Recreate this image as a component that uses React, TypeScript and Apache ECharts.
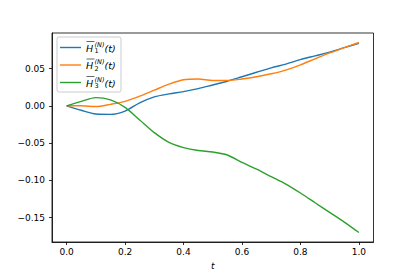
import React, { useEffect, useRef } from "react";
import * as echarts from "echarts";

const tValues = [0, 0.05, 0.1, 0.15, 0.2, 0.25, 0.3, 0.35, 0.4, 0.45, 0.5, 0.55, 0.6, 0.65, 0.7, 0.75, 0.8, 0.85, 0.9, 0.95, 1.0];
const h1Values = [0, -0.006, -0.011, -0.0115, -0.007, 0.004, 0.012, 0.016, 0.019, 0.023, 0.028, 0.033, 0.039, 0.045, 0.051, 0.056, 0.062, 0.067, 0.072, 0.078, 0.084];
const h2Values = [0, 0, -0.001, 0.002, 0.006, 0.013, 0.021, 0.029, 0.035, 0.036, 0.034, 0.034, 0.036, 0.039, 0.043, 0.048, 0.055, 0.063, 0.071, 0.078, 0.085];
const h3Values = [0, 0.006, 0.011, 0.008, -0.002, -0.019, -0.036, -0.049, -0.056, -0.06, -0.062, -0.066, -0.076, -0.085, -0.095, -0.105, -0.117, -0.13, -0.143, -0.156, -0.17];
const xTicks = [0, 0.2, 0.4, 0.6, 0.8, 1.0];
const yTicks = [-0.15, -0.1, -0.05, 0, 0.05];
const seriesNames = ["H̅₁⁽ᴺ⁾(t)", "H̅₂⁽ᴺ⁾(t)", "H̅₃⁽ᴺ⁾(t)"];
const subscripts = ["1", "2", "3"];
const colors = ["#1f77b4", "#ff7f0e", "#2ca02c"];

const FONT = "DejaVu Sans";

function fmt(v: number, d: number) {
  const s = Math.abs(v).toFixed(d);
  return v < -1e-9 ? "\u2212" + s : s;
}

export default function App() {
  const ref = useRef<HTMLDivElement>(null);
  useEffect(() => {
    if (!ref.current) return;
    const chart = echarts.init(ref.current, undefined, { renderer: "svg" });
    const all = [h1Values, h2Values, h3Values];
    const series = all.map((vals, i) => ({
      name: seriesNames[i],
      type: "line",
      data: tValues.map((t, k) => [t, vals[k]]),
      symbol: "none",
      smooth: 0.3,
      lineStyle: { color: colors[i], width: 1.4 },
      itemStyle: { color: colors[i] },
    }));
    const legendRows = [47.5, 65, 82.5];
    const legendChildren: any[] = [
      {
        type: "rect",
        shape: { x: 57, y: 37, width: 64, height: 55, r: 2 },
        style: { fill: "rgba(255,255,255,0.8)", stroke: "#cccccc", lineWidth: 1 },
      },
    ];
    legendRows.forEach((y, i) => {
      legendChildren.push(
        { type: "line", shape: { x1: 60, y1: y, x2: 81, y2: y }, style: { stroke: colors[i], lineWidth: 1.4 } },
        { type: "text", x: 86, y: y + 0.5, style: { text: "H", font: `italic 9.5px '${FONT}'`, fill: "#000", textVerticalAlign: "middle" } },
        { type: "line", shape: { x1: 86.5, y1: y - 6, x2: 94.5, y2: y - 6 }, style: { stroke: "#000", lineWidth: 0.6 } },
        { type: "text", x: 94.5, y: y - 3, style: { text: "(N)", font: `italic 6.5px '${FONT}'`, fill: "#000", textVerticalAlign: "middle" } },
        { type: "text", x: 94.5, y: y + 3.5, style: { text: subscripts[i], font: `6.5px '${FONT}'`, fill: "#000", textVerticalAlign: "middle" } },
        { type: "text", x: 104.5, y: y + 0.5, style: { text: "(t)", font: `italic 9.5px '${FONT}'`, fill: "#000", textVerticalAlign: "middle" } }
      );
    });
    chart.setOption({
      animation: false,
      grid: { left: 52, right: 41.5, top: 33, bottom: 35, containLabel: false, show: true, borderColor: "#000", borderWidth: 0.8 },
      xAxis: {
        type: "value",
        min: -0.05,
        max: 1.05,
        name: "t",
        nameLocation: "middle",
        nameGap: 19,
        nameTextStyle: { fontFamily: FONT, fontStyle: "italic", fontSize: 9, color: "#000" },
        axisLine: { show: true, onZero: false, lineStyle: { color: "#000", width: 0.8 } },
        axisTick: { show: true, length: 3, customValues: xTicks, lineStyle: { color: "#000", width: 0.8 } },
        axisLabel: { customValues: xTicks, formatter: (v: number) => fmt(v, 1), fontFamily: FONT, fontSize: 9, color: "#000", margin: 5 },
        splitLine: { show: false },
      },
      yAxis: {
        type: "value",
        min: -0.1827,
        max: 0.0977,
        axisLine: { show: true, onZero: false, lineStyle: { color: "#000", width: 0.8 } },
        axisTick: { show: true, length: 3, customValues: yTicks, lineStyle: { color: "#000", width: 0.8 } },
        axisLabel: { customValues: yTicks, formatter: (v: number) => fmt(v, 2), fontFamily: FONT, fontSize: 9, color: "#000", margin: 7 },
        splitLine: { show: false },
      },
      series,
      graphic: [{ type: "group", children: legendChildren, z: 100 }],
    });
    return () => chart.dispose();
  }, []);
  return <div ref={ref} style={{ width: 415, height: 277, position: "absolute", left: 0, top: 0, background: "#fff" }} />;
}
